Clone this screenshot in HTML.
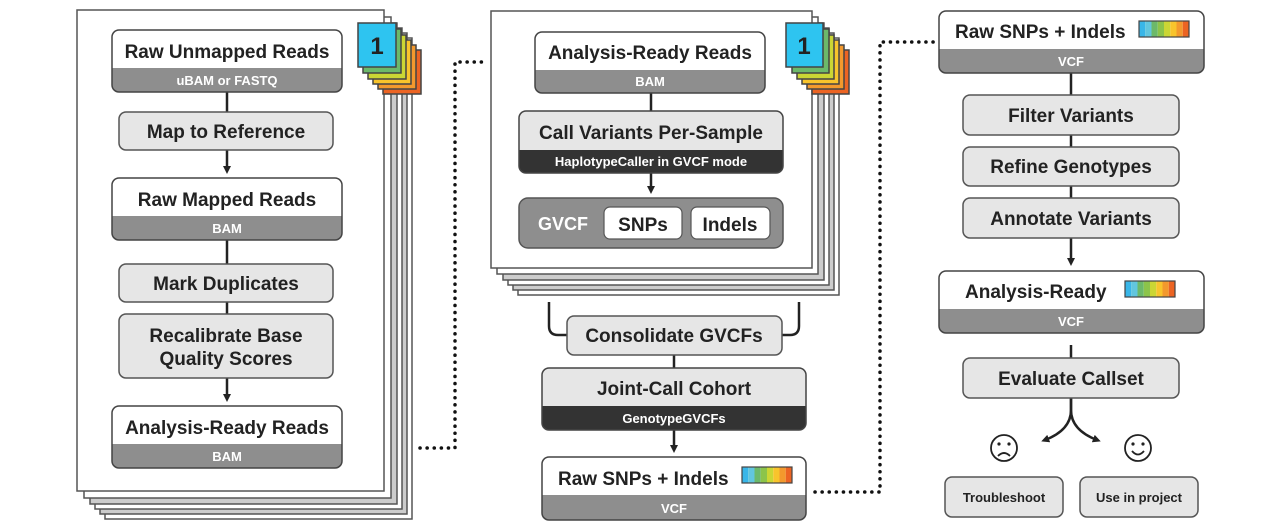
<!DOCTYPE html>
<html><head><meta charset="utf-8"><style>
html,body{margin:0;padding:0;background:#fff;}
svg text{font-family:"Liberation Sans",sans-serif;font-weight:bold;}
</style></head><body>
<svg width="1280" height="527" viewBox="0 0 1280 527" xmlns="http://www.w3.org/2000/svg">
<defs>
<g id="rb">
<rect x="0" y="0" width="6.25" height="16" fill="#39b6e8"/>
<rect x="6.25" y="0" width="6.25" height="16" fill="#62c6de"/>
<rect x="12.5" y="0" width="6.25" height="16" fill="#6cb96a"/>
<rect x="18.75" y="0" width="6.25" height="16" fill="#8cc44a"/>
<rect x="25" y="0" width="6.25" height="16" fill="#cbd634"/>
<rect x="31.25" y="0" width="6.25" height="16" fill="#f8c42c"/>
<rect x="37.5" y="0" width="6.25" height="16" fill="#f3992d"/>
<rect x="43.75" y="0" width="6.25" height="16" fill="#ec6423"/>
<rect x="0" y="0" width="50" height="16" fill="none" stroke="#444" stroke-width="1.2"/>
</g>
<marker id="ah" markerWidth="8" markerHeight="8" refX="4" refY="4" orient="auto" markerUnits="userSpaceOnUse"><path d="M0,0 L8,4 L0,8 z" fill="#222"/></marker>
</defs>

<!-- LEFT STACK -->
<g stroke="#555" stroke-width="1.5">
<rect x="105" y="38" width="307" height="481" fill="#fff"/>
<rect x="100" y="33" width="307" height="481" fill="#ccc"/>
<rect x="95" y="28" width="307" height="481" fill="#fff"/>
<rect x="90" y="23" width="307" height="481" fill="#ccc"/>
<rect x="84" y="17" width="307" height="481" fill="#fff"/>
<rect x="77" y="10" width="307" height="481" fill="#fff"/>
</g>
<g stroke="#444" stroke-width="1.5">
<rect x="383" y="50" width="38" height="44" fill="#ec6423"/>
<rect x="378" y="45" width="38" height="44" fill="#f3992d"/>
<rect x="373" y="40" width="38" height="44" fill="#f8c42c"/>
<rect x="368" y="35" width="38" height="44" fill="#cbd634"/>
<rect x="363" y="29" width="38" height="44" fill="#6cb96a"/>
<rect x="358" y="23" width="38" height="44" fill="#2ec4f0"/>
</g>
<text x="377" y="54" font-size="24" text-anchor="middle" fill="#222">1</text>

<!-- MIDDLE STACK -->
<g stroke="#555" stroke-width="1.5">
<rect x="518" y="38" width="321" height="257" fill="#fff"/>
<rect x="513" y="33" width="321" height="257" fill="#ccc"/>
<rect x="508" y="28" width="321" height="257" fill="#fff"/>
<rect x="503" y="23" width="321" height="257" fill="#ccc"/>
<rect x="497" y="17" width="321" height="257" fill="#fff"/>
<rect x="491" y="11" width="321" height="257" fill="#fff"/>
</g>
<g stroke="#444" stroke-width="1.5">
<rect x="812" y="50" width="37" height="44" fill="#ec6423"/>
<rect x="807" y="45" width="37" height="44" fill="#f3992d"/>
<rect x="802" y="40" width="37" height="44" fill="#f8c42c"/>
<rect x="797" y="35" width="37" height="44" fill="#cbd634"/>
<rect x="792" y="29" width="37" height="44" fill="#6cb96a"/>
<rect x="786" y="23" width="37" height="44" fill="#2ec4f0"/>
</g>
<text x="804" y="54" font-size="24" text-anchor="middle" fill="#222">1</text>

<!-- connectors -->
<g stroke="#222" stroke-width="2.5" fill="none">
<line x1="227" y1="92" x2="227" y2="112"/>
<line x1="227" y1="150" x2="227" y2="170" marker-end="url(#ah)"/>
<line x1="227" y1="240" x2="227" y2="264"/>
<line x1="227" y1="302" x2="227" y2="314"/>
<line x1="227" y1="378" x2="227" y2="398" marker-end="url(#ah)"/>
<line x1="651" y1="93" x2="651" y2="111"/>
<line x1="651" y1="173" x2="651" y2="190" marker-end="url(#ah)"/>
<path d="M549,302 V326 Q549,335 558,335 H567"/>
<path d="M799,302 V326 Q799,335 790,335 H782"/>
<line x1="674" y1="355" x2="674" y2="368"/>
<line x1="674" y1="430" x2="674" y2="449" marker-end="url(#ah)"/>
<line x1="1071" y1="73" x2="1071" y2="95"/>
<line x1="1071" y1="135" x2="1071" y2="147"/>
<line x1="1071" y1="186" x2="1071" y2="198"/>
<line x1="1071" y1="238" x2="1071" y2="262" marker-end="url(#ah)"/>
<line x1="1071" y1="345" x2="1071" y2="358"/>
<path d="M1071,398 V410 Q1071,430 1045,440" marker-end="url(#ah)"/>
<path d="M1071,398 V410 Q1071,430 1097,440" marker-end="url(#ah)"/>
</g>
<!-- dotted -->
<g stroke="#111" stroke-width="3.5" fill="none" stroke-dasharray="0.1 7" stroke-linecap="round">
<path d="M420,448 H455 V62 H483"/>
<path d="M815,492 H880 V42 H935"/>
</g>

<!-- data nodes helper: full bar, white top, outline -->
<!-- Raw Unmapped Reads -->
<g>
<rect x="112" y="30" width="230" height="62" rx="7" fill="#8e8e8e"/>
<rect x="112" y="30" width="230" height="38" rx="7" fill="#fff"/><rect x="112" y="40" width="230" height="28" fill="#fff"/>
<rect x="112" y="30" width="230" height="62" rx="7" fill="none" stroke="#444" stroke-width="1.5"/>
<text x="227" y="58" font-size="19" text-anchor="middle" fill="#222">Raw Unmapped Reads</text>
<text x="227" y="85" font-size="13" text-anchor="middle" fill="#fff">uBAM or FASTQ</text>
</g>
<g>
<rect x="112" y="178" width="230" height="62" rx="7" fill="#8e8e8e"/>
<rect x="112" y="178" width="230" height="38" rx="7" fill="#fff"/><rect x="112" y="188" width="230" height="28" fill="#fff"/>
<rect x="112" y="178" width="230" height="62" rx="7" fill="none" stroke="#444" stroke-width="1.5"/>
<text x="227" y="206" font-size="19" text-anchor="middle" fill="#222">Raw Mapped Reads</text>
<text x="227" y="233" font-size="13" text-anchor="middle" fill="#fff">BAM</text>
</g>
<g>
<rect x="112" y="406" width="230" height="62" rx="7" fill="#8e8e8e"/>
<rect x="112" y="406" width="230" height="38" rx="7" fill="#fff"/><rect x="112" y="416" width="230" height="28" fill="#fff"/>
<rect x="112" y="406" width="230" height="62" rx="7" fill="none" stroke="#444" stroke-width="1.5"/>
<text x="227" y="434" font-size="19" text-anchor="middle" fill="#222">Analysis-Ready Reads</text>
<text x="227" y="461" font-size="13" text-anchor="middle" fill="#fff">BAM</text>
</g>
<g fill="#e6e6e6" stroke="#555" stroke-width="1.5">
<rect x="119" y="112" width="214" height="38" rx="7"/>
<rect x="119" y="264" width="214" height="38" rx="7"/>
<rect x="119" y="314" width="214" height="64" rx="7"/>
</g>
<g font-size="19" text-anchor="middle" fill="#222">
<text x="226" y="138">Map to Reference</text>
<text x="226" y="290">Mark Duplicates</text>
<text x="226" y="342">Recalibrate Base</text>
<text x="226" y="365">Quality Scores</text>
</g>

<!-- middle nodes -->
<g>
<rect x="535" y="32" width="230" height="61" rx="7" fill="#8e8e8e"/>
<rect x="535" y="32" width="230" height="38" rx="7" fill="#fff"/><rect x="535" y="42" width="230" height="28" fill="#fff"/>
<rect x="535" y="32" width="230" height="61" rx="7" fill="none" stroke="#444" stroke-width="1.5"/>
<text x="650" y="59" font-size="19" text-anchor="middle" fill="#222">Analysis-Ready Reads</text>
<text x="650" y="86" font-size="13" text-anchor="middle" fill="#fff">BAM</text>
</g>
<g>
<rect x="519" y="111" width="264" height="62" rx="7" fill="#333"/>
<rect x="519" y="111" width="264" height="39" rx="7" fill="#e6e6e6"/><rect x="519" y="121" width="264" height="29" fill="#e6e6e6"/>
<rect x="519" y="111" width="264" height="62" rx="7" fill="none" stroke="#444" stroke-width="1.5"/>
<text x="651" y="139" font-size="19" text-anchor="middle" fill="#222">Call Variants Per-Sample</text>
<text x="651" y="166" font-size="13" text-anchor="middle" fill="#fff">HaplotypeCaller in GVCF mode</text>
</g>
<rect x="519" y="198" width="264" height="50" rx="9" fill="#8e8e8e" stroke="#555" stroke-width="1.5"/>
<text x="563" y="230" font-size="18" text-anchor="middle" fill="#fff">GVCF</text>
<rect x="604" y="207" width="78" height="32" rx="6" fill="#fff" stroke="#555" stroke-width="1.2"/>
<rect x="691" y="207" width="79" height="32" rx="6" fill="#fff" stroke="#555" stroke-width="1.2"/>
<text x="643" y="231" font-size="19" text-anchor="middle" fill="#222">SNPs</text>
<text x="730" y="231" font-size="19" text-anchor="middle" fill="#222">Indels</text>

<rect x="567" y="316" width="215" height="39" rx="7" fill="#e6e6e6" stroke="#555" stroke-width="1.5"/>
<text x="674" y="342" font-size="19" text-anchor="middle" fill="#222">Consolidate GVCFs</text>
<g>
<rect x="542" y="368" width="264" height="62" rx="7" fill="#333"/>
<rect x="542" y="368" width="264" height="38" rx="7" fill="#e6e6e6"/><rect x="542" y="378" width="264" height="28" fill="#e6e6e6"/>
<rect x="542" y="368" width="264" height="62" rx="7" fill="none" stroke="#444" stroke-width="1.5"/>
<text x="674" y="395" font-size="19" text-anchor="middle" fill="#222">Joint-Call Cohort</text>
<text x="674" y="423" font-size="13" text-anchor="middle" fill="#fff">GenotypeGVCFs</text>
</g>
<g>
<rect x="542" y="457" width="264" height="63" rx="7" fill="#8e8e8e"/>
<rect x="542" y="457" width="264" height="38" rx="7" fill="#fff"/><rect x="542" y="467" width="264" height="28" fill="#fff"/>
<rect x="542" y="457" width="264" height="63" rx="7" fill="none" stroke="#444" stroke-width="1.5"/>
<text x="558" y="485" font-size="19" fill="#222">Raw SNPs + Indels</text>
<use href="#rb" x="742" y="467"/>
<text x="674" y="513" font-size="13" text-anchor="middle" fill="#fff">VCF</text>
</g>

<!-- right nodes -->
<g>
<rect x="939" y="11" width="265" height="62" rx="7" fill="#8e8e8e"/>
<rect x="939" y="11" width="265" height="38" rx="7" fill="#fff"/><rect x="939" y="21" width="265" height="28" fill="#fff"/>
<rect x="939" y="11" width="265" height="62" rx="7" fill="none" stroke="#444" stroke-width="1.5"/>
<text x="955" y="38" font-size="19" fill="#222">Raw SNPs + Indels</text>
<use href="#rb" x="1139" y="21"/>
<text x="1071" y="66" font-size="13" text-anchor="middle" fill="#fff">VCF</text>
</g>
<g>
<rect x="939" y="271" width="265" height="62" rx="7" fill="#8e8e8e"/>
<rect x="939" y="271" width="265" height="38" rx="7" fill="#fff"/><rect x="939" y="281" width="265" height="28" fill="#fff"/>
<rect x="939" y="271" width="265" height="62" rx="7" fill="none" stroke="#444" stroke-width="1.5"/>
<text x="965" y="298" font-size="19" fill="#222">Analysis-Ready</text>
<use href="#rb" x="1125" y="281"/>
<text x="1071" y="326" font-size="13" text-anchor="middle" fill="#fff">VCF</text>
</g>
<g fill="#e6e6e6" stroke="#555" stroke-width="1.5">
<rect x="963" y="95" width="216" height="40" rx="7"/>
<rect x="963" y="147" width="216" height="39" rx="7"/>
<rect x="963" y="198" width="216" height="40" rx="7"/>
<rect x="963" y="358" width="216" height="40" rx="7"/>
<rect x="945" y="477" width="118" height="40" rx="7"/>
<rect x="1080" y="477" width="118" height="40" rx="7"/>
</g>
<g font-size="19" text-anchor="middle" fill="#222">
<text x="1071" y="122">Filter Variants</text>
<text x="1071" y="173">Refine Genotypes</text>
<text x="1071" y="225">Annotate Variants</text>
<text x="1071" y="385">Evaluate Callset</text>
</g>
<g font-size="13" text-anchor="middle" fill="#222">
<text x="1004" y="502">Troubleshoot</text>
<text x="1139" y="502">Use in project</text>
</g>
<!-- faces -->
<g stroke="#222" stroke-width="1.8" fill="none">
<circle cx="1004" cy="448" r="13"/>
<circle cx="1138" cy="448" r="13"/>
<path d="M998,456 Q1004,450 1010,456"/>
<path d="M1132,451 Q1138,458 1144,451"/>
</g>
<g fill="#222">
<circle cx="999" cy="444" r="1.6"/><circle cx="1009" cy="444" r="1.6"/>
<circle cx="1133" cy="444" r="1.6"/><circle cx="1143" cy="444" r="1.6"/>
</g>
</svg>
</body></html>
